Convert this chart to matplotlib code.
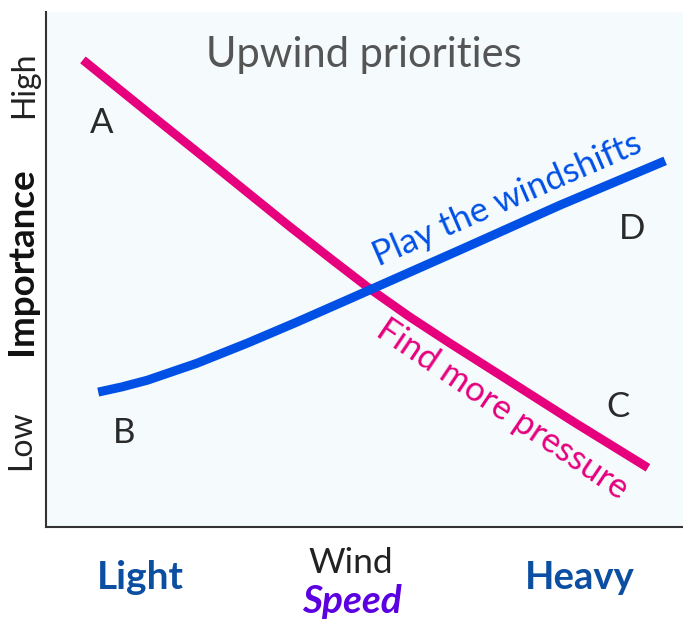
import matplotlib
matplotlib.use("Agg")
import matplotlib.pyplot as plt

# wind speed (0 = light, 100 = heavy) vs importance (0 = low, 100 = high)
pressure_x = [5.8, 16.3, 27.3, 38.3, 44.6, 50.9, 57.1, 63.4, 71.3, 83.1, 94.5]
pressure_y = [90.7, 80.2, 69.3, 58.3, 52.2, 46.2, 40.8, 35.7, 29.5, 20.2, 11.5]

shifts_x = [8.2, 11.9, 15.9, 23.7, 31.6, 39.4, 47.3, 65.0, 80.7, 97.2]
shifts_y = [26.2, 27.2, 28.5, 31.8, 35.7, 39.8, 44.1, 53.8, 62.5, 71.1]

corner_labels = ["A", "B", "C", "D"]
speed_labels = ["Light", "Heavy"]

PINK = "#e6007e"
BLUE = "#0050e6"
DARK_BLUE = "#0b4ea2"
FONT = "Lato"

fig = plt.figure(figsize=(6.83, 6.22), dpi=100)
ax = fig.add_axes([0.0673, 0.1527, 0.9327, 0.828])
ax.set_facecolor("#f5fbfd")
ax.set_xlim(0, 100)
ax.set_ylim(0, 100)
ax.set_xticks([])
ax.set_yticks([])
for side in ("top", "right"):
    ax.spines[side].set_visible(False)
for side in ("left", "bottom"):
    ax.spines[side].set_color("#333333")
    ax.spines[side].set_linewidth(1.5)

ax.plot(pressure_x, pressure_y, color=PINK, linewidth=6.3, solid_capstyle="butt",
        solid_joinstyle="round")
ax.plot(shifts_x, shifts_y, color=BLUE, linewidth=6.5, solid_capstyle="butt",
        solid_joinstyle="round")

ax.text(0.499, 0.893, "Upwind priorities", transform=ax.transAxes, ha="center",
        va="baseline", fontsize=30, color="#555555", family=FONT)

# corner letters
for lab, (fx, fy) in zip(corner_labels, [(0.088, 0.765), (0.122, 0.163),
                                         (0.898, 0.214), (0.920, 0.559)]):
    ax.text(fx, fy, lab, transform=ax.transAxes, ha="center", va="baseline",
            fontsize=25, color="#2a2a2a", family=FONT)

ax.text(0.724, 0.635, "Play the windshifts", transform=ax.transAxes, ha="center",
        va="center", rotation=23.5, rotation_mode="anchor", fontsize=25,
        color=BLUE, family=FONT)
ax.text(0.716, 0.229, "Find more pressure", transform=ax.transAxes, ha="center",
        va="center", rotation=-34, rotation_mode="anchor", fontsize=25,
        color=PINK, family=FONT)

# axis labels outside the box
fig.text(0.205, 0.0531, speed_labels[0], ha="center", va="baseline", fontsize=28,
         fontweight="bold", color=DARK_BLUE, family=FONT)
fig.text(0.849, 0.0531, speed_labels[1], ha="center", va="baseline", fontsize=27.5,
         fontweight="bold", color=DARK_BLUE, family=FONT)
fig.text(0.514, 0.0788, "Wind", ha="center", va="baseline", fontsize=25.5,
         color="#222222", family=FONT)
fig.text(0.515, 0.0145, "Speed", ha="center", va="baseline", fontsize=28,
         fontweight="bold", style="italic", color="#5b00e0", family=FONT)

fig.text(0.032, 0.580, "Importance", ha="center", va="center", rotation=90,
         fontsize=26.5, fontweight="bold", color="#111111", family=FONT)
fig.text(0.035, 0.863, "High", ha="center", va="center", rotation=90,
         fontsize=23, color="#222222", family=FONT)
fig.text(0.031, 0.293, "Low", ha="center", va="center", rotation=90,
         fontsize=23, color="#222222", family=FONT)

fig.savefig("out.png", dpi=100, facecolor="white")
